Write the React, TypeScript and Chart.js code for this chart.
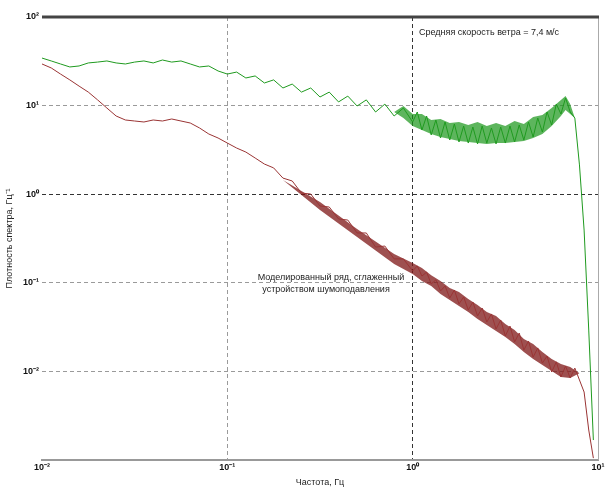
import React, { useEffect, useRef } from "react";
import { Chart, registerables } from "chart.js";

Chart.register(...registerables);

const freqHz = [
  0.01, 0.01122, 0.01259, 0.01413, 0.01585, 0.01778, 0.01995, 0.02239, 0.02512, 0.02818,
  0.03162, 0.03548, 0.03981, 0.04467, 0.05012, 0.05623, 0.0631, 0.07079, 0.07943, 0.08913,
  0.1, 0.1122, 0.1259, 0.1413, 0.1585, 0.1778, 0.1995, 0.2239, 0.2512, 0.2818,
  0.3162, 0.3548, 0.3981, 0.4467, 0.5012, 0.5623, 0.631, 0.7079, 0.7943, 0.8913,
  1.0,
  1.059, 1.122, 1.189, 1.259, 1.334, 1.413, 1.496, 1.585, 1.679, 1.778,
  1.884, 1.995, 2.113, 2.239, 2.371, 2.512, 2.661, 2.818, 2.985, 3.162,
  3.35, 3.548, 3.758, 3.981, 4.217, 4.467, 4.732, 5.012, 5.309, 5.623,
  5.957, 6.31, 6.683, 7.079, 7.499, 7.943, 8.414, 8.913, 9.441,
];

const windSpectrum = [
  34.4, 31.9, 29.5, 27.3, 28.0, 30.3, 31.0, 31.9, 30.3, 29.5,
  31.0, 31.9, 30.3, 32.7, 31.0, 31.9, 29.5, 27.3, 28.0, 24.6,
  22.7, 23.9, 20.5, 21.6, 18.0, 19.5, 15.8, 17.5, 14.2, 15.8,
  12.5, 14.2, 11.0, 12.8, 9.9, 11.6, 8.47, 10.4, 7.63, 9.39,
  6.53,
  8.47, 5.3, 7.63, 4.66, 6.88, 4.31, 6.53, 4.09, 6.2, 3.88,
  5.88, 3.78, 5.73, 3.69, 5.88, 3.78, 5.59, 3.69, 5.73, 3.78,
  5.88, 3.88, 6.04, 4.09, 6.53, 4.42, 7.24, 5.03, 8.47, 6.04,
  10.4, 8.04, 12.2, 8.47, 7.24, 2.14, 0.394, 0.0293, 0.00168,
];

const modelSpectrum = [
  29.5, 26.6, 22.7, 19.5, 16.6, 14.2, 11.6, 9.39, 7.63, 6.88,
  6.7, 6.53, 6.88, 6.7, 7.06, 6.7, 6.36, 5.59, 4.78, 4.31,
  3.78, 3.32, 2.99, 2.56, 2.19, 1.98, 1.52, 1.41, 1.03, 1.005,
  0.736, 0.717, 0.525, 0.511, 0.365, 0.365, 0.253, 0.26, 0.186, 0.186,
  0.136,
  0.155, 0.119, 0.132, 0.0969, 0.108, 0.0808, 0.092, 0.0673, 0.083, 0.0577,
  0.0692, 0.0493, 0.0607, 0.0422, 0.0519, 0.0361, 0.0445, 0.0301, 0.038, 0.0251,
  0.0325, 0.0215, 0.0271, 0.0174, 0.022, 0.0145, 0.0184, 0.0124, 0.0149, 0.00984,
  0.0128, 0.00865, 0.0115, 0.00842, 0.0109, 0.008, 0.00585, 0.00218, 0.00105,
];

// spread (noise band) of the wind spectrum
const windBandFreq = [
  0.7943, 0.8913, 1.0, 1.122, 1.259, 1.413, 1.585, 1.778, 1.995, 2.239, 2.512,
  2.818, 3.162, 3.548, 3.981, 4.467, 5.012, 5.623, 6.31, 6.683, 7.079, 7.499,
];
const windBandTop = [
  8.47, 9.9, 8.04, 8.04, 6.88, 7.06, 6.36, 6.53, 6.04, 6.53, 5.88,
  6.36, 5.88, 6.7, 6.2, 7.43, 7.83, 9.39, 11.6, 12.8, 10.4, 7.24,
];
const windBandBottom = [
  8.47, 7.24, 5.88, 5.3, 4.78, 4.42, 4.2, 3.98, 3.88, 3.78, 3.69,
  3.78, 3.78, 3.88, 3.98, 4.31, 4.78, 5.88, 7.63, 8.92, 8.04, 7.24,
];

// spread (noise band) of the modelled series
const modelBandFreq = [
  0.1995, 0.3162, 0.5012, 0.7943, 1.0, 1.122, 1.259, 1.413, 1.585, 1.778, 1.995,
  2.239, 2.512, 2.818, 3.162, 3.548, 3.981, 4.467, 5.012, 5.623, 6.31, 7.079, 7.943,
];
const modelBandTop = [
  1.45, 0.816, 0.405, 0.211, 0.167, 0.147, 0.122, 0.105, 0.0873, 0.0787, 0.0656,
  0.0562, 0.0468, 0.0422, 0.0343, 0.0293, 0.0232, 0.0204, 0.0166, 0.0138, 0.0121, 0.0112, 0.0095,
];
const modelBandBottom = [
  1.45, 0.663, 0.329, 0.163, 0.126, 0.105, 0.092, 0.0747, 0.064, 0.0547, 0.0468,
  0.039, 0.0334, 0.0286, 0.0244, 0.0204, 0.0166, 0.0138, 0.0118, 0.0101, 0.00865, 0.00842, 0.0095,
];

const xTickValues = [0.01, 0.1, 1, 10];
const xTickLabels = ["10\u207B\u00B2", "10\u207B\u00B9", "10\u2070", "10\u00B9"];
const yTickValues = [0.01, 0.1, 1, 10, 100];
const yTickLabels = ["10\u207B\u00B2", "10\u207B\u00B9", "10\u2070", "10\u00B9", "10\u00B2"];

const xTitle = "Частота, Гц";
const yTitle = "Плотность спектра, Гц\u207B\u00B9";
const windNote = "Средняя скорость ветра = 7,4 м/с";
const modelNote = ["Моделированный ряд, сглаженный", "устройством шумоподавления"];

const FONT = "'Liberation Sans', Arial, sans-serif";

const framePlugin = {
  id: "frame",
  afterDraw(chart: any) {
    const { ctx, chartArea } = chart;
    const { left, right, top, bottom } = chartArea;
    ctx.save();
    ctx.strokeStyle = "#aaaaaa";
    ctx.lineWidth = 1;
    ctx.beginPath();
    ctx.moveTo(right + 0.5, top);
    ctx.lineTo(right + 0.5, bottom);
    ctx.stroke();
    ctx.strokeStyle = "#444444";
    ctx.lineWidth = 3;
    ctx.beginPath();
    ctx.moveTo(left, top);
    ctx.lineTo(right + 1, top);
    ctx.stroke();
    ctx.fillStyle = "#222222";
    ctx.font = `9px ${FONT}`;
    ctx.textAlign = "left";
    ctx.textBaseline = "middle";
    ctx.fillText(windNote, 419, 33);
    ctx.textAlign = "center";
    ctx.fillText(modelNote[0], 331, 278);
    ctx.fillText(modelNote[1], 326, 290);
    ctx.restore();
  },
};

export default function App() {
  const canvasRef = useRef<HTMLCanvasElement | null>(null);

  useEffect(() => {
    const canvas = canvasRef.current;
    if (!canvas) return;
    const pts = (xs: number[], ys: number[]) => xs.map((f, i) => ({ x: f, y: ys[i] }));

    const gridColor = (ctx: any) => {
      const v = ctx.tick ? ctx.tick.value : null;
      if (v === 1) return "#333333";
      return "#9a9a9a";
    };

    const bandEdge = (data: any[]) => ({
      data,
      borderWidth: 0,
      borderColor: "rgba(0,0,0,0)",
      pointRadius: 0,
      fill: false,
      tension: 0,
    });

    const chart = new Chart(canvas, {
      type: "line",
      data: {
        datasets: [
          {
            label: "wind",
            data: pts(freqHz, windSpectrum),
            borderColor: "#1f9a1f",
            borderWidth: 1,
            pointRadius: 0,
            fill: false,
            tension: 0,
          },
          {
            label: "model",
            data: pts(freqHz, modelSpectrum),
            borderColor: "#9a3434",
            borderWidth: 1,
            pointRadius: 0,
            fill: false,
            tension: 0,
          },
          { label: "windTop", ...bandEdge(pts(windBandFreq, windBandTop)) },
          {
            label: "windBottom",
            ...bandEdge(pts(windBandFreq, windBandBottom)),
            fill: "-1",
            backgroundColor: "rgba(24,150,24,0.7)",
          },
          { label: "modelTop", ...bandEdge(pts(modelBandFreq, modelBandTop)) },
          {
            label: "modelBottom",
            ...bandEdge(pts(modelBandFreq, modelBandBottom)),
            fill: "-1",
            backgroundColor: "rgba(125,22,22,0.75)",
          },
        ],
      },
      options: {
        animation: false,
        responsive: false,
        maintainAspectRatio: false,
        layout: { padding: { top: 17, right: 9, left: 0, bottom: 0 } },
        plugins: {
          legend: { display: false },
          tooltip: { enabled: false },
        },
        scales: {
          x: {
            type: "logarithmic",
            min: 0.01,
            max: 10,
            afterBuildTicks: (scale: any) => {
              scale.ticks = xTickValues.map((v) => ({ value: v }));
            },
            afterFit: (scale: any) => {
              scale.height = 28;
            },
            ticks: {
              autoSkip: false,
              maxRotation: 0,
              padding: 2,
              color: "#111111",
              font: { family: FONT, size: 9, weight: "bold" },
              callback: (v: any) => {
                const i = xTickValues.indexOf(Number(v));
                return i >= 0 ? xTickLabels[i] : "";
              },
            },
            grid: {
              drawTicks: false,
              color: (ctx: any) => {
                const v = ctx.tick ? ctx.tick.value : null;
                if (v === 0.01 || v === 10) return "rgba(0,0,0,0)";
                return gridColor(ctx);
              },
              lineWidth: 1,
            },
            border: { display: true, color: "#999999", width: 2, dash: [4, 3] },
            title: {
              display: true,
              text: xTitle,
              color: "#222222",
              font: { family: FONT, size: 9 },
              padding: { top: 0, bottom: 0 },
            },
          },
          y: {
            type: "logarithmic",
            min: 0.001,
            max: 100,
            afterBuildTicks: (scale: any) => {
              scale.ticks = yTickValues.map((v) => ({ value: v }));
            },
            afterFit: (scale: any) => {
              scale.width = 42;
            },
            ticks: {
              autoSkip: false,
              padding: 3,
              color: "#111111",
              font: { family: FONT, size: 9, weight: "bold" },
              callback: (v: any) => {
                const i = yTickValues.indexOf(Number(v));
                return i >= 0 ? yTickLabels[i] : "";
              },
            },
            grid: {
              drawTicks: false,
              color: gridColor,
              lineWidth: 1,
            },
            border: { display: false, dash: [4, 3] },
            title: {
              display: true,
              text: yTitle,
              color: "#222222",
              font: { family: FONT, size: 9 },
              padding: { top: 4, bottom: 0 },
            },
          },
        },
      },
      plugins: [framePlugin],
    } as any);

    return () => chart.destroy();
  }, []);

  return (
    <div style={{ position: "fixed", left: 0, top: 0, width: 607, height: 488, background: "#ffffff" }}>
      <canvas ref={canvasRef} width={607} height={488} style={{ display: "block" }} />
    </div>
  );
}
